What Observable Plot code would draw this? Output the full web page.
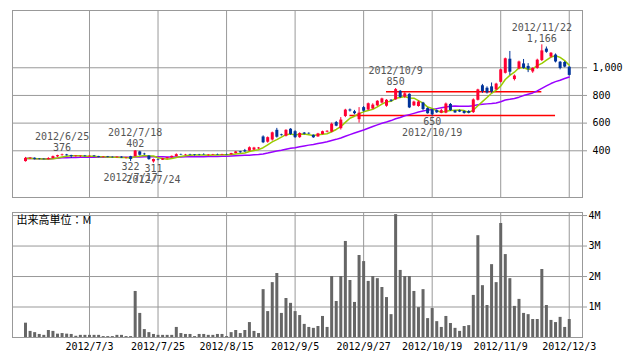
<!DOCTYPE html>
<html><head><meta charset="utf-8">
<script src="https://cdn.jsdelivr.net/npm/d3@7"></script>
<script src="https://cdn.jsdelivr.net/npm/@observablehq/plot@0.6"></script>
<style>
body{margin:0;background:#fff;}
#wrap{position:relative;width:638px;height:362px;overflow:hidden;}
#price{position:absolute;left:0;top:0;}
#vol{position:absolute;left:0;top:205px;}
svg{font-family:"DejaVu Sans Mono",monospace;}
</style></head><body>
<div id="wrap"><div id="price"></div><div id="vol"></div></div>
<script>
// trading-day index 0 = 2012/6/13 ... 119 = 2012/12/3
const open  = [322,343,346,340,339,336,344,356,365,370,366,358,358,362,357,362,358,353,356,353,350,354,347,357,358,392,376,362,320,336,332,342,350,358,373,368,372,370,370,373,366,369,373,370,373,371,380,393,400,398,405,414,500,462,478,548,515,505,556,538,495,528,526,512,500,518,535,535,604,560,648,695,682,625,712,695,702,725,745,722,765,768,830,788,808,725,720,745,705,695,690,672,672,735,688,690,684,684,676,765,870,852,862,840,895,960,1062,915,992,1028,1010,970,995,1052,1135,1078,1092,1040,1038,1004];
const high  = [352,350,349,344,342,350,362,368,376,374,368,364,363,366,364,366,360,358,359,356,356,357,352,360,402,396,382,364,340,340,345,352,362,378,376,374,375,372,374,378,372,374,376,375,376,382,395,396,410,428,425,424,508,500,535,562,520,552,560,545,530,532,530,515,526,542,545,600,612,640,700,702,692,712,720,745,740,762,780,770,770,850,836,820,812,758,760,750,710,700,695,700,745,742,692,695,688,690,775,845,880,862,890,888,990,1070,1118,948,1048,1060,1030,1000,1062,1166,1150,1110,1100,1045,1045,1008];
const low   = [318,338,334,334,335,334,342,352,362,362,345,354,352,356,354,356,350,349,350,348,346,345,340,322,355,362,366,332,311,328,330,340,347,356,366,364,365,362,364,368,362,366,368,367,368,369,378,382,388,395,402,410,452,455,470,492,506,500,512,490,490,515,518,490,498,514,530,530,574,550,640,680,660,600,680,690,700,720,740,715,752,765,778,780,705,720,715,690,665,650,670,668,668,685,670,676,665,668,670,760,815,810,815,836,890,955,945,905,985,990,965,960,990,1045,1105,1070,1035,985,1000,940];
const close = [345,347,338,337,336,344,358,365,370,364,360,362,361,358,361,357,352,356,352,350,354,348,350,338,398,368,372,336,337,333,342,350,360,372,370,371,369,366,368,371,369,372,370,373,371,380,392,386,392,422,420,420,458,495,530,498,510,548,518,495,525,520,522,494,522,538,541,592,578,622,694,688,668,672,686,740,730,758,775,765,758,842,785,812,710,752,752,698,668,660,675,690,738,690,674,680,670,672,768,840,828,818,825,882,985,1065,968,940,1042,995,990,995,1055,1122,1112,1105,1042,995,1005,945];
const volume = [0.47,0.20,0.16,0.10,0.07,0.23,0.20,0.11,0.13,0.11,0.10,0.04,0.07,0.07,0.07,0.07,0.07,0.03,0.03,0.03,0.07,0.07,0.03,0.03,1.51,0.79,0.26,0.16,0.10,0.07,0.07,0.07,0.07,0.33,0.13,0.10,0.10,0.03,0.10,0.10,0.07,0.07,0.10,0.10,0.03,0.16,0.23,0.13,0.23,0.49,0.20,0.13,1.57,0.85,1.80,2.10,0.79,1.28,1.12,0.85,0.72,0.43,0.33,0.30,0.36,0.69,0.33,2.0,1.18,2.0,3.15,1.87,1.15,2.69,2.49,1.84,2.0,1.93,1.64,1.31,0.75,4.03,2.2,2.0,2.0,1.51,0.98,1.57,0.62,0.95,0.52,0.33,0.69,0.46,0.30,0.20,0.36,0.39,1.38,3.34,1.70,1.05,2.39,1.80,3.74,2.72,1.93,1.02,1.25,0.79,0.75,0.59,0.59,2.23,1.05,0.56,0.49,0.66,0.33,0.59];

const tickIndex  = [14,29,44,59,74,89,104,119];
const tickLabels = ["2012/7/3","2012/7/25","2012/8/15","2012/9/5","2012/9/27","2012/10/19","2012/11/9","2012/12/3"];
const priceTicks = [400,600,800,1000];
const volTicks   = [1,2,3,4];

const annoIndex = [8,24,23,28,81,89,113];
const annoPrice = [376,402,322,311,850,650,1166];
const annoValue = ["376","402","322","311","850","650","1,166"];
const annoDate  = ["2012/6/25","2012/7/18","2012/7/17","2012/7/24","2012/10/9","2012/10/19","2012/11/22"];
const annoKind  = ["high","high","low","low","high","low","high"];

const levelPrice = [827,655];
const levelFrom  = [79,71];
const levelTo    = [113,116];

const UP = "#ff0033", DOWN = "#003399", GRID = "#999";

const candles = open.map((o,i)=>({i,o,h:high[i],l:low[i],c:close[i],v:volume[i],col:close[i]>=o?UP:DOWN}));
const annos = annoIndex.map((i,k)=>({i,p:annoPrice[k],val:annoValue[k],date:annoDate[k],kind:annoKind[k]}));
const highs = annos.filter(d=>d.kind==="high"), lows = annos.filter(d=>d.kind==="low");
const levels = levelPrice.map((p,k)=>({p,x1:levelFrom[k],x2:levelTo[k]}));
const labelMap = new Map(tickIndex.map((t,k)=>[t,tickLabels[k]]));
const xDomain = [-2.85,121.9];

const price = Plot.plot({
  width:638, height:205, marginLeft:12, marginRight:56, marginTop:10, marginBottom:8,
  style:{fontFamily:"DejaVu Sans Mono", fontSize:"10px", background:"#fff"},
  x:{domain:xDomain, axis:null},
  y:{domain:[62.4,1414], axis:null},
  marks:[
    Plot.ruleY(priceTicks,{stroke:GRID}),
    Plot.ruleX(tickIndex,{stroke:GRID}),
    Plot.ruleY(levels,{y:"p",x1:"x1",x2:"x2",stroke:"#ff0000",strokeWidth:1.5}),
    Plot.lineY(candles, Plot.windowY({k:25,anchor:"end",reduce:"mean"},{x:"i",y:"c",stroke:"#9900ff",strokeWidth:1.5})),
    Plot.lineY(candles, Plot.windowY({k:5,anchor:"end",reduce:"mean"},{x:"i",y:"c",stroke:"#99cc00",strokeWidth:1.5})),
    Plot.ruleX(candles,{x:"i",y1:"l",y2:"h",stroke:"col",strokeWidth:1}),
    Plot.ruleX(candles,{x:"i",y1:"o",y2:"c",stroke:"col",strokeWidth:3}),
    Plot.text(highs,{x:"i",y:"p",text:"val",dy:-6.5,fill:"#555",fontSize:10}),
    Plot.text(highs,{x:"i",y:"p",text:"date",dy:-17.5,fill:"#555",fontSize:10}),
    Plot.text(lows,{x:"i",y:"p",text:"val",dy:5.5,fill:"#555",fontSize:10}),
    Plot.text(lows,{x:"i",y:"p",text:"date",dy:16.5,fill:"#555",fontSize:10}),
    Plot.axisY(priceTicks,{anchor:"right",label:null,tickSize:4,tickPadding:6,tickFormat:d3.format(","),stroke:GRID,fontSize:10}),
    Plot.frame({stroke:GRID})
  ]
});
document.getElementById("price").appendChild(price);

const vol = Plot.plot({
  width:638, height:157, marginLeft:12, marginRight:56, marginTop:7, marginBottom:25,
  style:{fontFamily:"DejaVu Sans Mono", fontSize:"10px", background:"#fff"},
  x:{domain:xDomain, axis:null},
  y:{domain:[0,4.1], axis:null},
  marks:[
    Plot.ruleY(volTicks,{stroke:GRID}),
    Plot.ruleX(tickIndex,{stroke:GRID}),
    Plot.ruleX(candles,{x:"i",y1:0,y2:"v",stroke:"#666",strokeWidth:3}),
    Plot.axisY(volTicks,{anchor:"right",label:null,tickSize:4,tickPadding:2,tickFormat:d=>d+"M",stroke:GRID,fontSize:10}),
    Plot.axisX(tickIndex,{anchor:"bottom",label:null,tickSize:0,tickPadding:5,tickFormat:d=>labelMap.get(d),fontSize:10}),
    Plot.text(["出来高単位：M"],{frameAnchor:"top-left",text:d=>d,textAnchor:"start",lineAnchor:"top",dx:4,dy:4,fontSize:11,fontFamily:"Noto Sans CJK JP",fill:"#000"}),
    Plot.frame({stroke:GRID})
  ]
});
document.getElementById("vol").appendChild(vol);
</script>
</body></html>
